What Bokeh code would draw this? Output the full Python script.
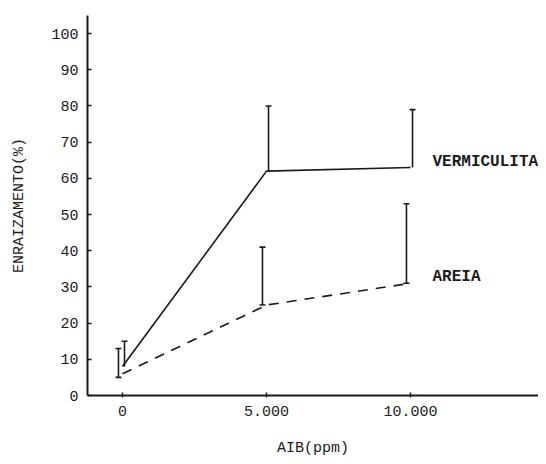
from bokeh.plotting import figure
from bokeh.models import ColumnDataSource, Whisker, TeeHead, FixedTicker, Range1d
from bokeh.transform import dodge
from bokeh.core.properties import value
from bokeh.embed import file_html
from bokeh.resources import INLINE

# ---- data ----
doses = [0, 5000, 10000]
dose_labels = {0: "0", 5000: "5.000", 10000: "10.000"}
verm_mean = [8, 62, 63]
verm_upper = [15, 80, 79]
areia_mean = [6, 25, 31]
areia_lower = [5, 25, 31]
areia_upper = [13, 41, 53]
series_names = ["VERMICULITA", "AREIA"]
y_ticks = list(range(0, 101, 10))

INK = "#1a1a1a"
FONT = "Liberation Mono"

p = figure(width=538, height=462, output_backend="svg", toolbar_location=None,
           x_range=Range1d(-1215, 14444), y_range=Range1d(0, 105),
           min_border_left=87, min_border_right=0, min_border_top=15, min_border_bottom=67)
p.outline_line_color = None
p.grid.visible = False
p.background_fill_color = "white"
p.border_fill_color = "white"

verm = ColumnDataSource(dict(x=doses, y=verm_mean, upper=verm_upper))
areia = ColumnDataSource(dict(x=doses, y=areia_mean, upper=areia_upper, lower=areia_lower))

p.line("x", "y", source=verm, line_color=INK, line_width=1.6)
p.line("x", "y", source=areia, line_color=INK, line_width=1.6, line_dash="10 8")

wv = Whisker(base=dodge("x", 70, range=p.x_range), upper="upper", lower="y", source=verm,
             dimension="height", line_color=INK, line_width=1.6,
             upper_head=TeeHead(size=6, line_color=INK, line_width=1.6), lower_head=None)
wa = Whisker(base=dodge("x", -140, range=p.x_range), upper="upper", lower="lower", source=areia,
             dimension="height", line_color=INK, line_width=1.6,
             upper_head=TeeHead(size=6, line_color=INK, line_width=1.6),
             lower_head=TeeHead(size=6, line_color=INK, line_width=1.6))
p.add_layout(wv)
p.add_layout(wa)

lab = ColumnDataSource(dict(x=[doses[-1], doses[-1]], y=[verm_mean[-1], areia_mean[-1]], t=series_names))
p.text("x", "y", text="t", source=lab, x_offset=22, y_offset=-6,
       text_font=value(FONT), text_font_size="16px", text_font_style="bold",
       text_color=INK, text_baseline="middle", text_align="left")

# axes
p.xaxis.ticker = FixedTicker(ticks=doses)
p.xaxis.major_label_overrides = {k: v for k, v in dose_labels.items()}
p.yaxis.ticker = FixedTicker(ticks=y_ticks)
p.xaxis.minor_tick_line_color = None
p.yaxis.minor_tick_line_color = None
for ax in (p.xaxis, p.yaxis):
    ax.axis_line_color = INK
    ax.axis_line_width = 2
    ax.major_tick_line_color = INK
    ax.major_tick_line_width = 1.5
    ax.major_label_text_font = FONT
    ax.major_label_text_font_size = "15px"
    ax.major_label_text_color = INK
    ax.axis_label_text_font = FONT
    ax.axis_label_text_font_size = "15px"
    ax.axis_label_text_font_style = "normal"
    ax.axis_label_text_color = INK

p.yaxis.major_tick_in = 4
p.yaxis.major_tick_out = 0
p.yaxis.major_label_standoff = 9
p.yaxis.axis_label = "ENRAIZAMENTO(%)"
p.yaxis.axis_label_standoff = 20

p.xaxis.major_tick_in = 3
p.xaxis.major_tick_out = 2
p.xaxis.major_label_standoff = 8
p.xaxis.axis_label = "AIB(ppm)"
p.xaxis.axis_label_standoff = 21

open("out.html", "w").write(file_html(p, INLINE))
